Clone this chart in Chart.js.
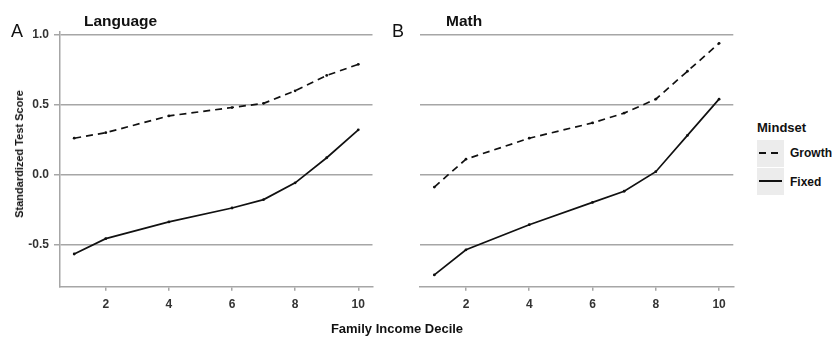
<!DOCTYPE html>
<html>
<head>
<meta charset="utf-8">
<script src="https://cdn.jsdelivr.net/npm/chart.js@4"></script>
<style>
  html, body { margin: 0; padding: 0; background: #fff; }
  #wrap { position: relative; width: 837px; height: 337px; overflow: hidden; font-family: "Liberation Sans", Arial, sans-serif; }
  .cv { position: absolute; top: 0; }
  .t { position: absolute; white-space: nowrap; color: #111; }
  .b { font-weight: bold; }
  .key { position: absolute; left: 757px; width: 27px; height: 27px; background: #ececec; }
  .kl { position: absolute; left: 759px; }
</style>
</head>
<body>
<div id="wrap">
  <canvas id="cA" class="cv" style="left:0px" width="380" height="337"></canvas>
  <canvas id="cB" class="cv" style="left:380px" width="360" height="337"></canvas>

  <div class="t" style="left:11px; top:21px; font-size:18px; line-height:20px;">A</div>
  <div class="t b" style="left:84px; top:12px; font-size:15.5px; line-height:18px;">Language</div>
  <div class="t" style="left:392px; top:21px; font-size:18px; line-height:20px;">B</div>
  <div class="t b" style="left:446px; top:12px; font-size:15.5px; line-height:18px;">Math</div>

  <div class="t b" style="left:19px; top:154px; font-size:11px; line-height:12px; transform: translate(-50%,-50%) rotate(-90deg);">Standardized Test Score</div>
  <div class="t b" style="left:397px; top:328px; font-size:13px; line-height:15px; transform: translate(-50%,-50%);">Family Income Decile</div>

  <div class="t b" style="left:757px; top:120px; font-size:13px; line-height:15px;">Mindset</div>
  <div class="key" style="top:140px;"></div>
  <div class="key" style="top:168px;"></div>
  <svg class="kl" style="top:148px;" width="23" height="10"><line x1="0" y1="5" x2="23" y2="5" stroke="#111" stroke-width="2" stroke-dasharray="7,5"/></svg>
  <svg class="kl" style="top:176px;" width="23" height="10"><line x1="0" y1="5" x2="23" y2="5" stroke="#111" stroke-width="2"/></svg>
  <div class="t b" style="left:790px; top:146px; font-size:12px; line-height:14px;">Growth</div>
  <div class="t b" style="left:790px; top:175px; font-size:12px; line-height:14px;">Fixed</div>
</div>
<script>
// ---- data ----
const deciles = [1, 2, 4, 6, 7, 8, 9, 10];
const languageGrowth = [0.26, 0.30, 0.42, 0.48, 0.51, 0.60, 0.71, 0.79];
const languageFixed  = [-0.57, -0.46, -0.34, -0.24, -0.18, -0.06, 0.12, 0.32];
const mathGrowth = [-0.09, 0.11, 0.26, 0.37, 0.44, 0.54, 0.74, 0.94];
const mathFixed  = [-0.72, -0.54, -0.36, -0.20, -0.12, 0.02, 0.28, 0.54];
const xTicks = [2, 4, 6, 8, 10];
const yTicks = [-0.5, 0.0, 0.5, 1.0];

const GRID = '#a6a6a6';
const LINE = '#111111';
const tickFont = { family: '"Liberation Sans", Arial, sans-serif', size: 12, weight: 'bold' };

function pts(xs, ys) { return xs.map((x, i) => ({ x: x, y: ys[i] })); }

function makeChart(id, growth, fixed, showY, yWidth, padRight) {
  return new Chart(document.getElementById(id), {
    type: 'line',
    data: {
      datasets: [
        { label: 'Growth', data: pts(deciles, growth), borderColor: LINE, backgroundColor: LINE,
          borderWidth: 1.7, borderDash: [7, 5], pointRadius: 1.4, pointBorderWidth: 0, tension: 0 },
        { label: 'Fixed', data: pts(deciles, fixed), borderColor: LINE, backgroundColor: LINE,
          borderWidth: 1.7, pointRadius: 1.4, pointBorderWidth: 0, tension: 0 }
      ]
    },
    options: {
      responsive: false,
      animation: false,
      layout: { padding: { top: 31.5, right: padRight, bottom: 0, left: 0 } },
      plugins: { legend: { display: false }, tooltip: { enabled: false } },
      scales: {
        x: {
          type: 'linear', min: 0.55, max: 10.45,
          afterBuildTicks: s => { s.ticks = xTicks.map(v => ({ value: v })); },
          afterFit: s => { s.height = 337 - 286.8; },
          grid: { drawOnChartArea: false, drawTicks: true, tickLength: 4, color: GRID, lineWidth: 1.5 },
          border: { display: true, color: GRID, width: 1.5 },
          ticks: { color: '#333', font: tickFont, padding: 7, maxRotation: 0 }
        },
        y: {
          type: 'linear', min: -0.805, max: 1.025,
          afterBuildTicks: s => { s.ticks = yTicks.map(v => ({ value: v })); },
          afterFit: s => { s.width = yWidth; },
          grid: { drawOnChartArea: true, drawTicks: showY, tickLength: 6, color: GRID, lineWidth: 1.5 },
          border: { display: showY, color: GRID, width: 1.5 },
          ticks: { display: showY, color: '#333', font: tickFont, padding: 5,
                   callback: v => v.toFixed(1) }
        }
      }
    }
  });
}

makeChart('cA', languageGrowth, languageFixed, true, 60, 380 - 372.5);
makeChart('cB', mathGrowth, mathFixed, false, 40.1, 360 - 353.3);
</script>
</body>
</html>
